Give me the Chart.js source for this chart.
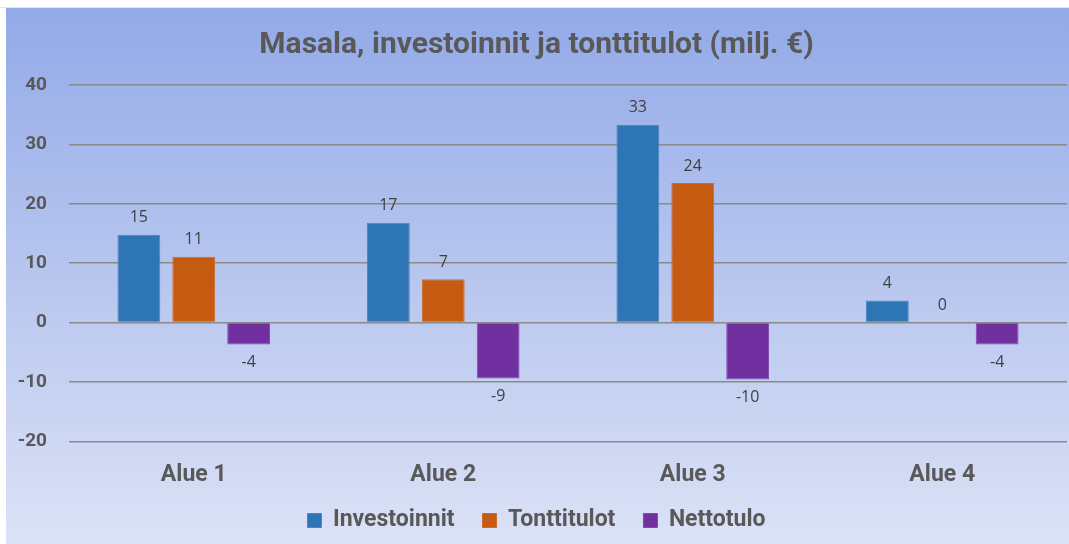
<!DOCTYPE html>
<html>
<head>
<meta charset="utf-8">
<script src="https://cdn.jsdelivr.net/npm/chart.js@4.4.0/dist/chart.umd.min.js"></script>
<style>
  html, body { margin: 0; padding: 0; background: #fff; }
  body { width: 1069px; height: 544px; position: relative; overflow: hidden; }
  .topline { position: absolute; left: 0; top: 7px; width: 1069px; height: 1px; background: #e4e4e4; }
  #wrap { position: absolute; left: 6px; top: 8px; width: 1063px; height: 536px; }
</style>
</head>
<body>
<div class="topline"></div>
<div id="wrap"><canvas id="masalaChart"></canvas></div>
<script>
// Masala, investoinnit ja tonttitulot (milj. €)
const categories = ['Alue 1', 'Alue 2', 'Alue 3', 'Alue 4'];
const investoinnit = [14.8, 16.8, 33.3, 3.7];
const tonttitulot = [11.1, 7.3, 23.5, 0];
const nettotulo = [-3.7, -9.4, -9.6, -3.7];
const yTicks = [-20, -10, 0, 10, 20, 30, 40];

const textGray = '#595959';
const boldFont = 'Roboto';

// gradient background behind everything
const bgPlugin = {
    id: 'bgGradient',
    beforeDraw(chart) {
        const ctx = chart.ctx;
        const g = ctx.createLinearGradient(0, 0, 0, chart.height);
        g.addColorStop(0, '#93aae8');
        g.addColorStop(1, '#dce2f6');
        ctx.save();
        ctx.fillStyle = g;
        ctx.fillRect(0, 0, chart.width, chart.height);
        ctx.restore();
    }
};

// value labels above / below each bar
const valueLabels = {
    id: 'valueLabels',
    afterDatasetsDraw(chart) {
        const ctx = chart.ctx;
        ctx.save();
        ctx.font = '16px "Open Sans"';
        ctx.fillStyle = '#404040';
        ctx.textAlign = 'center';
        ctx.textBaseline = 'middle';
        chart.data.datasets.forEach((ds, i) => {
            chart.getDatasetMeta(i).data.forEach((bar, j) => {
                const v = ds.data[j];
                const y = v < 0 ? bar.y + 18 : bar.y - 17;
                ctx.fillText(String(Math.round(v)), bar.x, y);
            });
        });
        ctx.restore();
    }
};

new Chart(document.getElementById('masalaChart').getContext('2d'), {
    type: 'bar',
    data: {
        labels: categories,
        datasets: [
            { label: 'Investoinnit', data: investoinnit, backgroundColor: '#2e75b6', borderColor: '#4a86c0', borderWidth: 1 },
            { label: 'Tonttitulot', data: tonttitulot, backgroundColor: '#c55a11', borderColor: '#d06a28', borderWidth: 1 },
            { label: 'Nettotulo', data: nettotulo, backgroundColor: '#7030a0', borderColor: '#8048b0', borderWidth: 1 }
        ]
    },
    options: {
        responsive: true,
        maintainAspectRatio: false,
        animation: false,
        categoryPercentage: 0.66,
        barPercentage: 0.78,
        layout: { padding: { left: 0, right: 2, top: 0, bottom: 2 } },
        plugins: {
            title: {
                display: true,
                text: 'Masala, investoinnit ja tonttitulot (milj. €)',
                color: textGray,
                font: { family: boldFont, size: 30, weight: 'bold' },
                padding: { top: 19, bottom: 22 }
            },
            legend: {
                position: 'bottom',
                labels: {
                    color: textGray,
                    font: { family: boldFont, size: 23, weight: 'bold' },
                    boxWidth: 14,
                    boxHeight: 14,
                    padding: 28
                }
            },
            tooltip: { enabled: false }
        },
        scales: {
            y: {
                min: -20,
                max: 40,
                afterBuildTicks(axis) {
                    axis.ticks = yTicks.map(v => ({ value: v }));
                },
                afterFit(axis) {
                    axis.width = 63;
                },
                border: { display: false },
                grid: { color: '#8a8a8a', lineWidth: 1.5, drawTicks: false },
                ticks: {
                    color: textGray,
                    padding: 22,
                    font: { family: boldFont, size: 19, weight: 'bold' }
                }
            },
            x: {
                // the legend's wide item spacing also adds height; take it back here
                afterFit(axis) {
                    axis.height -= 20;
                },
                border: { display: false },
                grid: { display: false },
                ticks: {
                    color: textGray,
                    padding: 12,
                    font: { family: boldFont, size: 23, weight: 'bold' }
                }
            }
        }
    },
    plugins: [bgPlugin, valueLabels]
});
</script>
</body>
</html>
